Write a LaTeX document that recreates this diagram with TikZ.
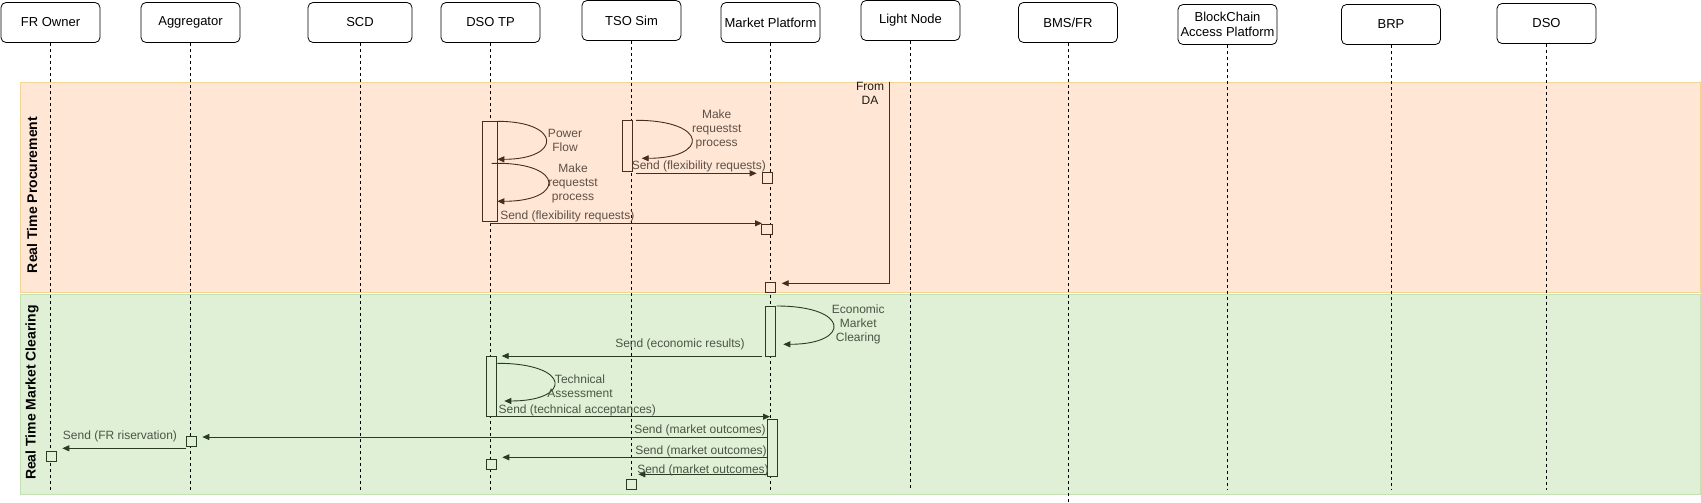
\documentclass[tikz,border=0pt]{standalone}
\usepackage{fontspec}
\setmainfont{Liberation Sans}
\usetikzlibrary{arrows.meta}
\definecolor{ofill}{RGB}{255,230,213}
\definecolor{odraw}{RGB}{243,213,150}
\definecolor{gfill}{RGB}{224,240,214}
\definecolor{gdraw}{RGB}{197,225,180}
\definecolor{oline}{RGB}{70,45,30}
\definecolor{otext}{RGB}{95,80,70}
\definecolor{gline}{RGB}{40,60,35}
\definecolor{gtext}{RGB}{75,85,70}
\definecolor{datext}{RGB}{30,25,20}
\begin{document}
\begin{tikzpicture}[x=1pt,y=-1pt,
  hdr/.style={draw=black, line width=0.8pt, rounded corners=5pt, fill=white, minimum width=99pt, minimum height=40pt, inner sep=1pt, font=\fontsize{13}{14}\selectfont, align=center},
  life/.style={black, line width=0.7pt, dash pattern=on 3pt off 3pt},
  obar/.style={draw=oline, fill=ofill, line width=0.8pt, inner sep=0pt},
  gbar/.style={draw=gline, fill=gfill, line width=0.8pt, inner sep=0pt},
  omsg/.style={draw=oline, line width=0.9pt, -{Triangle[length=7pt,width=6pt]}},
  gmsg/.style={draw=gline, line width=0.9pt, -{Triangle[length=7pt,width=6pt]}},
  olab/.style={text=otext, font=\fontsize{12}{14}\selectfont, inner sep=0pt, align=center},
  glab/.style={text=gtext, font=\fontsize{12}{14}\selectfont, inner sep=0pt, align=center},
  poollab/.style={font=\bfseries\fontsize{14}{16}\selectfont, inner sep=0pt, rotate=90}
]
\useasboundingbox (0,0) rectangle (1701,503);
% pools
\draw[draw=odraw, fill=ofill, line width=0.8pt] (20.5,82.5) rectangle (1700,292.5);
\draw[draw=gdraw, fill=gfill, line width=0.8pt] (20.5,294) rectangle (1700,494);
% headers
\node[hdr] (fr) at (50.5,22.5) {FR Owner};
\node[hdr] (agg) at (190.5,22.5) {Aggregator};
\node[hdr, minimum width=104pt] (scd) at (360,22.5) {SCD};
\node[hdr] (dsotp) at (490.5,22.5) {DSO TP};
\node[hdr] (tso) at (631.5,20.5) {TSO Sim};
\node[hdr] (mp) at (770.5,22.5) {Market Platform};
\node[hdr] (ln) at (910.5,20.5) {Light Node};
\node[hdr] (bms) at (1068,22.5) {BMS/FR};
\node[hdr, font=\fontsize{13}{15}\selectfont] (bc) at (1227.5,24.5) {BlockChain\\Access Platform};
\node[hdr] (brp) at (1391,24.5) {BRP};
\node[hdr] (dso) at (1546.5,23.5) {DSO};
% lifelines
\coordinate (bot) at (0,490);
\coordinate (botb) at (0,502);
\foreach \n in {fr,agg,scd,dsotp,tso,mp,ln,bc,brp,dso}{
  \draw[life] (\n.south) -- (\n.south |- bot);
}
\draw[life] (bms.south) -- (bms.south |- botb);
% ---------- Real Time Procurement ----------
\node[obar, minimum width=15pt, minimum height=100pt] (dsoA) at (489.8,171.3) {};
\node[obar, minimum width=10.4pt, minimum height=50.7pt] (tsoA) at (627.5,145.65) {};
\node[obar, minimum width=10.4pt, minimum height=10.4pt] (mpB1) at (767.5,177.7) {};
\node[obar, minimum width=10.7pt, minimum height=10.4pt] (mpB2) at (766.7,229.5) {};
\node[obar, minimum width=10.4pt, minimum height=10pt] (mpB3) at (770.5,287.3) {};
% power flow loop
\coordinate (pf1) at (497.3,121.3);
\coordinate (pf2) at (497.3,159.3);
\draw[omsg] (pf1) .. controls (562,121.3) and (562,159.3) .. (pf2);
\node[olab] (pfl) at (565,140) {Power\\Flow};
% make requests loop (DSO TP)
\coordinate (mr0) at (491.7,163.3);
\coordinate (mr1) at (497.3,163.3);
\coordinate (mr2) at (497.3,201.3);
\draw[omsg] (mr0) -- (mr1) .. controls (565,163.3) and (565,201.3) .. (mr2);
\node[olab] (mrl) at (573,183) {Make\\requestst\\process};
% make requests loop (TSO Sim)
\coordinate (tm1) at (636,120.3);
\coordinate (tm2) at (641.7,158.3);
\draw[omsg] (tm1) .. controls (709,120.3) and (709,158.3) .. (tm2);
\node[olab] (tml) at (716.7,129.7) {Make\\requestst\\process};
% sends
\coordinate (ts1) at (636,173.3);
\coordinate (ts2) at (756.7,173.3);
\draw[omsg] (ts1) -- (ts2);
\node[olab] (tsl) at (698.8,166.7) {Send (flexibility requests)};
\coordinate (ds1) at (490.3,223.3);
\coordinate (ds2) at (762,223.3);
\draw[omsg] (ds1) -- (ds2);
\node[olab] (dsl) at (567.3,216.7) {Send (flexibility requests)};
% from DA
\coordinate (da0) at (889.3,82.5);
\coordinate (da1) at (889.3,283.3);
\coordinate (da2) at (781.7,283.3);
\draw[omsg] (da0) -- (da1) -- (da2);
\node[olab, text=datext] (dal) at (870,93) {From\\DA};
% ---------- Real Time Market Clearing ----------
\node[gbar, minimum width=10pt, minimum height=50pt] (mpA) at (770.7,331) {};
\node[gbar, minimum width=10.4pt, minimum height=60.7pt] (dsoB) at (491.5,386.35) {};
\node[gbar, minimum width=10pt, minimum height=57.4pt] (mpC) at (772.7,448) {};
\node[gbar, minimum width=10.7pt, minimum height=10pt] (aggB) at (191.3,441) {};
\node[gbar, minimum width=10.4pt, minimum height=10.7pt] (frB) at (51.5,456.3) {};
\node[gbar, minimum width=10.4pt, minimum height=10pt] (dsoC) at (491.5,464.3) {};
\node[gbar, minimum width=10pt, minimum height=10pt] (tsoB) at (631.7,484.3) {};
% economic market clearing loop
\coordinate (em1) at (776.7,306);
\coordinate (em2) at (783.3,344.3);
\draw[gmsg] (em1) .. controls (850.8,306) and (850.8,344.3) .. (em2);
\node[glab] (eml) at (858.3,324.5) {Economic\\Market\\Clearing};
% economic results
\coordinate (er1) at (762.3,356);
\coordinate (er2) at (501.7,356);
\draw[gmsg] (er1) -- (er2);
\node[glab] (erl) at (680,344.3) {Send (economic results)};
% technical assessment loop
\coordinate (ta1) at (497.3,363.3);
\coordinate (ta2) at (504.3,401);
\draw[gmsg] (ta1) .. controls (572,363.3) and (572,401) .. (ta2);
\node[glab] (tal) at (580,386.3) {Technical\\Assessment};
% technical acceptances
\coordinate (tc1) at (497.3,416.7);
\coordinate (tc2) at (770,416.7);
\draw[gmsg] (tc1) -- (tc2);
\node[glab] (tcl) at (577.3,410) {Send (technical acceptances)};
% market outcomes
\coordinate (mo1a) at (766.7,437);
\coordinate (mo1b) at (202.3,437);
\draw[gmsg] (mo1a) -- (mo1b);
\node[glab] (mo1l) at (700,430.7) {Send (market outcomes)};
\coordinate (mo2a) at (766.7,457.3);
\coordinate (mo2b) at (502.3,457.3);
\draw[gmsg] (mo2a) -- (mo2b);
\node[glab] (mo2l) at (701,451.7) {Send (market outcomes)};
\coordinate (mo3a) at (767.3,474.3);
\coordinate (mo3b) at (638.3,474.3);
\draw[gmsg] (mo3a) -- (mo3b);
\node[glab] (mo3l) at (703,470) {Send (market outcomes)};
% FR riservation
\coordinate (fr1) at (186,448.3);
\coordinate (fr2) at (62.3,448.3);
\draw[gmsg] (fr1) -- (fr2);
\node[glab] (frl) at (120,436.7) {Send (FR riservation)};
% pool labels
\node[poollab] (p1) at (32,195) {Real Time Procurement};
\node[poollab] (p2) at (32,392.5) {Real Time Market Clearing};
\end{tikzpicture}
\end{document}
